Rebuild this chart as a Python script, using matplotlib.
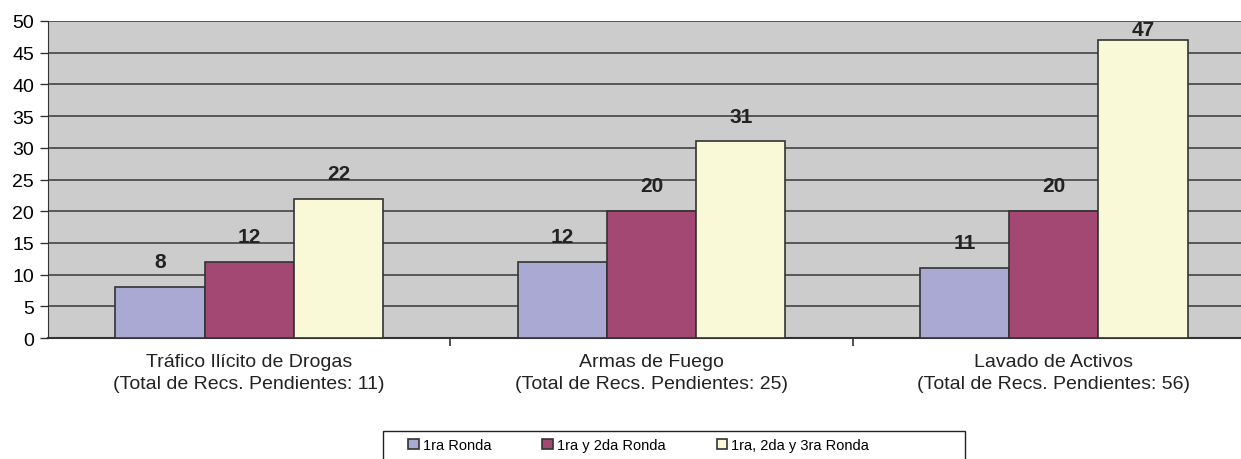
import matplotlib.pyplot as plt
import matplotlib.patches as mpatches
import numpy as np

plt.rcParams['font.family'] = ['Liberation Sans', 'DejaVu Sans']

# data
categories = ['Tráfico Ilícito de Drogas\n(Total de Recs. Pendientes: 11)',
              'Armas de Fuego\n(Total de Recs. Pendientes: 25)',
              'Lavado de Activos\n(Total de Recs. Pendientes: 56)']
series = ['1ra Ronda', '1ra y 2da Ronda', '1ra, 2da y 3ra Ronda']
ronda1 = [8, 12, 11]
ronda12 = [12, 20, 20]
ronda123 = [22, 31, 47]
colors = ['#a9a9d3', '#a34873', '#faf9d7']

W, H = 1241, 460
fig = plt.figure(figsize=(W / 100, H / 100), dpi=100)
ax = fig.add_axes([48 / W, (H - 339) / H, 1207 / W, 317 / H])
ax.set_facecolor('#cccccc')

x = np.arange(len(categories))
bw = 0.222
for i, (vals, c, name) in enumerate(zip([ronda1, ronda12, ronda123], colors, series)):
    pos = x + (i - 1) * bw
    ax.bar(pos, vals, bw, color=c, edgecolor='#333333', linewidth=1.2, label=name, zorder=3)
    for p, v in zip(pos, vals):
        ax.text(p, min(v + 4, 48.6), str(v), ha='center', va='center',
                fontsize=15, fontweight='bold', color='#222222', zorder=4)

ax.set_xlim(-0.5, 2.5)
ax.set_ylim(0, 50)
ax.set_yticks(range(0, 51, 5))
ax.yaxis.grid(True, color='#444444', linewidth=1.2, zorder=1)
ax.set_axisbelow(True)
ax.tick_params(axis='y', labelsize=14, length=6, width=1, color='#333333', pad=4)

ax.set_xticks(x)
ax.set_xticklabels(categories, fontsize=14, color='#222222', linespacing=1.4)
ax.tick_params(axis='x', length=0, pad=11)
ax.set_xticks([0.5, 1.5], minor=True)
ax.tick_params(axis='x', which='minor', length=6, width=1.2, color='#333333')

for s in ['top', 'right']:
    ax.spines[s].set_visible(False)
ax.spines['left'].set_color('#333333')
ax.spines['bottom'].set_color('#333333')
ax.spines['bottom'].set_linewidth(1.5)

# legend box
fig.patches.append(mpatches.Rectangle((383 / W, -0.05), 582 / W, 0.05 + 28 / H,
                                      transform=fig.transFigure, fill=False,
                                      edgecolor='#222222', linewidth=1))
fig.legend(loc='center left', bbox_to_anchor=(395 / W, 1 - 446 / H), ncol=3,
           frameon=False, fontsize=10.5, handlelength=0.75, handleheight=0.75,
           handletextpad=0.25, columnspacing=3.5)

plt.savefig('out.png', dpi=100)
